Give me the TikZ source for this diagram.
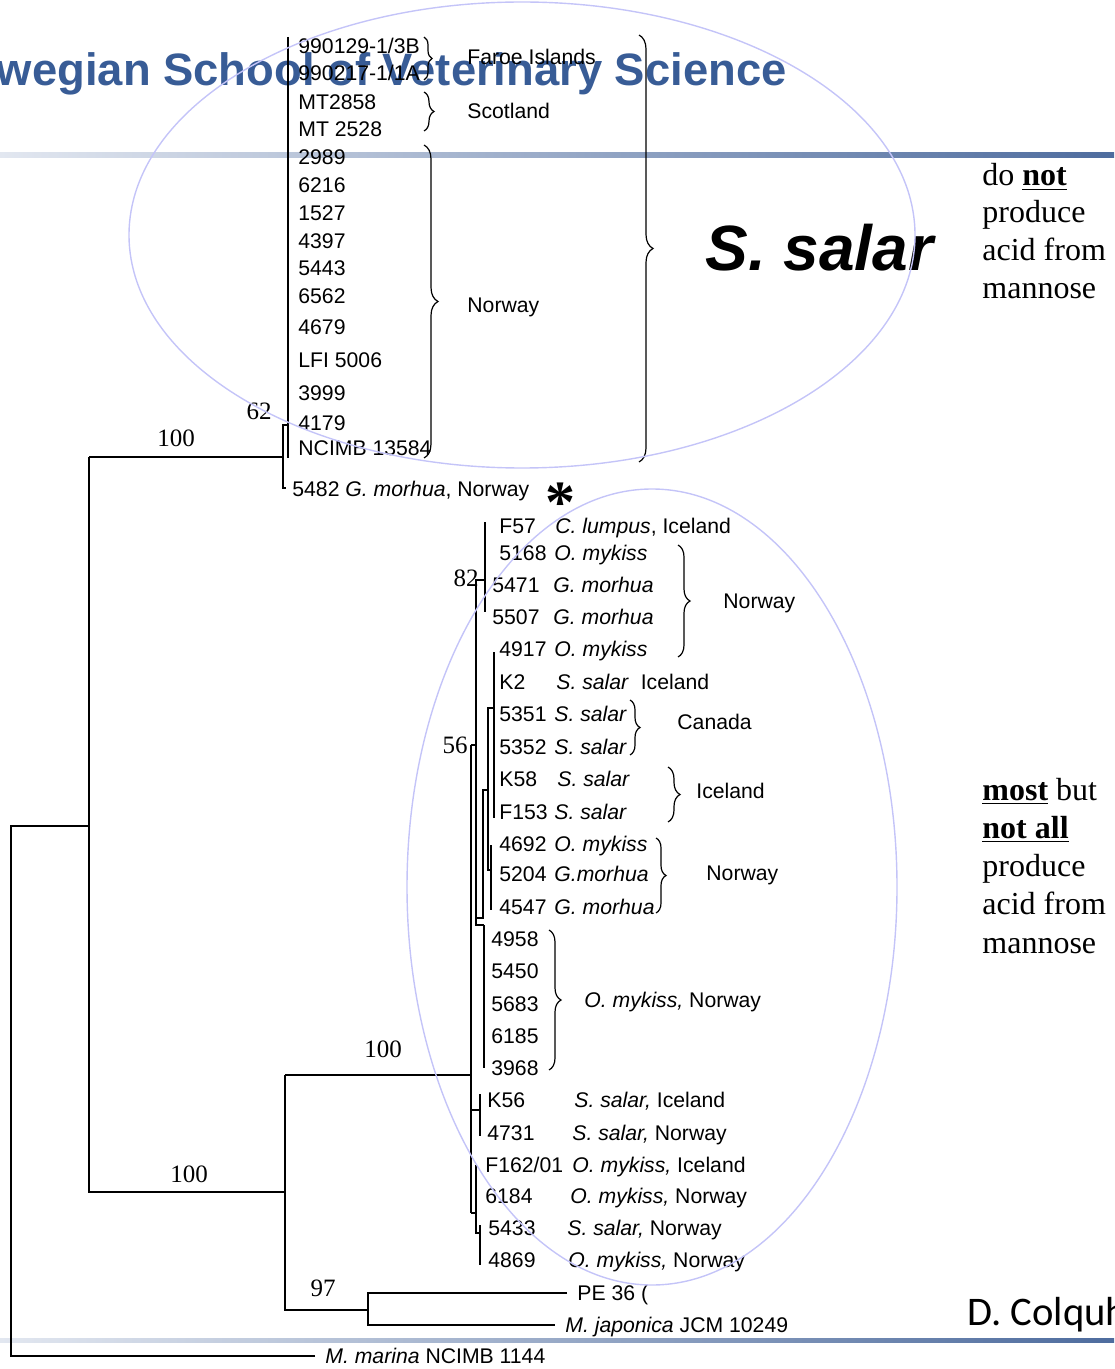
\documentclass[tikz,border=0pt]{standalone}
\usepackage{fontspec}
\setmainfont{Liberation Serif}
\setsansfont{Liberation Sans}
\newfontfamily\calfont{Carlito}
\usepackage{tikz}
\usetikzlibrary{decorations.pathreplacing}
\definecolor{schoolblue}{RGB}{56,92,150}
\definecolor{ringblue}{RGB}{196,196,248}
\definecolor{rulelight}{RGB}{226,231,240}
\definecolor{ruledark}{RGB}{78,108,158}

\begin{document}
\begin{tikzpicture}[
  x=0.5pt, y=-0.5pt,
  lf/.style={anchor=west, inner sep=0pt, text height=7.6pt, text depth=0pt,
    font=\sffamily\fontsize{10.6}{12}\selectfont},
  bs/.style={inner sep=0pt, font=\fontsize{12.5}{14}\selectfont},
  note/.style={anchor=base west, inner sep=0pt, font=\fontsize{16}{19}\selectfont},
  tr/.style={line width=0.75pt},
  br/.style={line width=0.6pt, decorate, decoration={brace, amplitude=#1}},
  ring/.style={draw=ringblue, line width=0.7pt}
]
\useasboundingbox (0,0) rectangle (1114,1369);
\clip (0,0) rectangle (1114,1369);

\shade[left color=rulelight, right color=ruledark] (0,153) rectangle (1114,157.5);
\shade[left color=rulelight, right color=ruledark] (0,1338) rectangle (1114,1342.5);
\node[anchor=base east, inner sep=0pt, text=schoolblue,
  font=\sffamily\bfseries\fontsize{22.7}{26}\selectfont] (school) at (787,86)
  {wegian School of Veterinary Science};
\node[anchor=base west, inner sep=0pt, font=\calfont\fontsize{20.3}{22}\selectfont]
  (author) at (967,1325) {D. Colquh};

% S. salar clade
\node[lf] (a3b)   at (298,46)  {990129-1/3B};
\node[lf] (a1a)   at (298,73)  {990217-1/1A};
\node[lf] (mt1)   at (298,102) {MT2858};
\node[lf] (mt2)   at (298,129) {MT 2528};
\node[lf] (n2989) at (298,157) {2989};
\node[lf] (n6216) at (298,185) {6216};
\node[lf] (n1527) at (298,213) {1527};
\node[lf] (n4397) at (298,241) {4397};
\node[lf] (n5443) at (298,268) {5443};
\node[lf] (n6562) at (298,296) {6562};
\node[lf] (n4679) at (298,327) {4679};
\node[lf] (lfi)   at (298,360) {LFI 5006};
\node[lf] (n3999) at (298,393) {3999};
\node[lf] (n4179) at (298,423) {4179};
\node[lf] (ncimb) at (298,448) {NCIMB 13584};
\node[lf] (n5482) at (292,489) {5482 \textit{G. morhua}, Norway};

\draw[br=4pt] (424,37) -- (424,80);
\draw[br=5pt] (424,92) -- (424,131);
\draw[br=7pt] (424,145) -- (424,458);
\draw[br=7pt] (639,35) -- (639,462);
\node[lf] (faroe) at (467,57)  {Faroe Islands};
\node[lf] (scot)  at (467,111) {Scotland};
\node[lf] (nor1)  at (467,305) {Norway};
\node[anchor=west, inner sep=0pt, font=\sffamily\bfseries\itshape\fontsize{32}{36}\selectfont]
  (salar) at (705,248) {S. salar};

% lower clade
\node[lf] (f57)   at (499,526)  {F57};
\node[lf] (f57sp) at (555,526)  {\textit{C. lumpus}, Iceland};
\node[lf] (n5168) at (499,553)  {5168};
\node[lf] (s5168) at (554,553)  {\textit{O. mykiss}};
\node[lf] (n5471) at (492,585)  {5471};
\node[lf] (s5471) at (553,585)  {\textit{G. morhua}};
\node[lf] (n5507) at (492,617)  {5507};
\node[lf] (s5507) at (553,617)  {\textit{G. morhua}};
\node[lf] (n4917) at (499,649)  {4917};
\node[lf] (s4917) at (554,649)  {\textit{O. mykiss}};
\node[lf] (k2)    at (499,682)  {K2};
\node[lf] (sk2)   at (556,682)  {\textit{S. salar}\ \ Iceland};
\node[lf] (n5351) at (499,714)  {5351};
\node[lf] (s5351) at (554,714)  {\textit{S. salar}};
\node[lf] (n5352) at (499,747)  {5352};
\node[lf] (s5352) at (554,747)  {\textit{S. salar}};
\node[lf] (k58)   at (499,779)  {K58};
\node[lf] (sk58)  at (557,779)  {\textit{S. salar}};
\node[lf] (f153)  at (499,812)  {F153};
\node[lf] (sf153) at (554,812)  {\textit{S. salar}};
\node[lf] (n4692) at (499,844)  {4692};
\node[lf] (s4692) at (554,844)  {\textit{O. mykiss}};
\node[lf] (n5204) at (499,874)  {5204};
\node[lf] (s5204) at (554,874)  {\textit{G.morhua}};
\node[lf] (n4547) at (499,907)  {4547};
\node[lf] (s4547) at (554,907)  {\textit{G. morhua}};
\node[lf] (n4958) at (491,939)  {4958};
\node[lf] (n5450) at (491,971)  {5450};
\node[lf] (n5683) at (491,1004) {5683};
\node[lf] (n6185) at (491,1036) {6185};
\node[lf] (n3968) at (491,1068) {3968};
\node[lf] (k56)   at (487,1100) {K56};
\node[lf] (sk56)  at (574,1100) {\textit{S. salar,} Iceland};
\node[lf] (n4731) at (487,1133) {4731};
\node[lf] (s4731) at (572,1133) {\textit{S. salar,} Norway};
\node[lf] (f162)  at (485,1165) {F162/01};
\node[lf] (sf162) at (572,1165) {\textit{O. mykiss,} Iceland};
\node[lf] (n6184) at (485,1196) {6184};
\node[lf] (s6184) at (570,1196) {\textit{O. mykiss,} Norway};
\node[lf] (n5433) at (488,1228) {5433};
\node[lf] (s5433) at (567,1228) {\textit{S. salar,} Norway};
\node[lf] (n4869) at (488,1260) {4869};
\node[lf] (s4869) at (568,1260) {\textit{O. mykiss,} Norway};

\draw[br=6pt] (678,545) -- (678,657);
\draw[br=5pt] (630,700) -- (630,755);
\draw[br=6pt] (668,767) -- (668,822);
\draw[br=5pt] (656,838) -- (656,913);
\draw[br=6pt] (549,930) -- (549,1070);
\node[lf] (nor2) at (723,601)  {Norway};
\node[lf] (can)  at (677,722)  {Canada};
\node[lf] (ice)  at (696,791)  {Iceland};
\node[lf] (nor3) at (706,873)  {Norway};
\node[lf] (omyk) at (584,1000) {\textit{O. mykiss,} Norway};
\node[anchor=north, inner sep=0pt, font=\bfseries\fontsize{30}{32}\selectfont]
  (star) at (560,483) {*};

% outgroups
\node[lf] (pe36)  at (577,1293) {PE 36 (};
\node[lf] (mjap)  at (565,1325) {\textit{M. japonica} JCM 10249};
\node[lf] (mmar)  at (325,1356) {\textit{M. marina} NCIMB 1144};

% branches
\coordinate (root) at (11,826);
\coordinate (c100a) at (89,457);
\coordinate (c100b) at (285,1192);
\coordinate (c100c) at (471,1075);
\coordinate (c97) at (368,1310);
\draw[tr] (mmar.west) ++(-10,0) -| (root) -- (89,826);
\draw[tr] (c100a) -- (89,1192) -- (c100b);
\draw[tr] (c100a) -- (283,457);
\draw[tr] (289,425) -- (283,425) -- (283,488) -- (286,488);
\draw[tr] (288,37) -- (288,458);
\draw[tr] (285,1075) -- (c100c);
\draw[tr] (285,1075) -- (285,1310) -- (c97);
\draw[tr] (pe36.west) ++(-10,0) -| (c97) |- ([xshift=-5pt]mjap.west);
\draw[tr] (471,745) -- (471,1213);
\draw[tr] (471,745) -- (476,745);
\draw[tr] (485,522) -- (485,612);
\draw[tr] (485,580) -- (476,580) -- (476,925) -- (484,925);
\draw[tr] (476,918) -- (483,918) -- (483,790) -- (488,790);
\draw[tr] (494,652) -- (494,818);
\draw[tr] (494,708) -- (488,708) -- (488,870) -- (491,870);
\draw[tr] (491,845) -- (491,910);
\draw[tr] (484,925) -- (484,1068);
\draw[line width=1.3pt] (484,932) -- (484,1040);
\draw[tr] (471,1110) -- (480,1110);
\draw[tr] (480,1094) -- (480,1136);
\draw[tr] (471,1213) -- (476,1213);
\draw[tr] (476,1165) -- (476,1233) -- (480,1233);
\draw[tr] (480,1225) -- (480,1265);

\node[bs] (b100a) at (176,438)  {100};
\node[bs] (b62)   at (259,411)  {62};
\node[bs] (b82)   at (466,578)  {82};
\node[bs] (b56)   at (455,745)  {56};
\node[bs] (b100c) at (383,1049) {100};
\node[bs] (b100b) at (189,1174) {100};
\node[bs] (b97)   at (323,1288) {97};

\node[note] (t1) at (982,186) {do \underline{\textbf{not}}};
\node[note] (t2) at (982,223) {produce};
\node[note] (t3) at (982,261) {acid from};
\node[note] (t4) at (982,299) {mannose};
\node[note] (u1) at (982,800) {\underline{\textbf{most}} but};
\node[note] (u2) at (982,838) {\underline{\textbf{not all}}};
\node[note] (u3) at (982,876) {produce};
\node[note] (u4) at (982,914) {acid from};
\node[note] (u5) at (982,953) {mannose};

\draw[ring] (522,235) ellipse [x radius=196.5pt, y radius=116.5pt];
\draw[ring] (652,887) ellipse [x radius=122.5pt, y radius=199pt];
\end{tikzpicture}
\end{document}
